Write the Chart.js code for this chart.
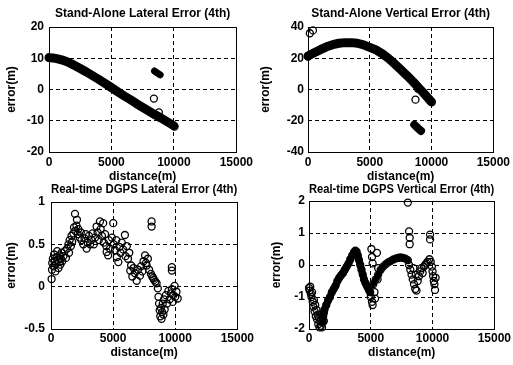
<!DOCTYPE html>
<html lang="en">
<head>
<meta charset="UTF-8">
<title>Stand-Alone vs Real-time DGPS Error (4th)</title>
<script src="https://cdn.jsdelivr.net/npm/chart.js"></script>
<style>
  body { margin: 0; background: #fff; }
  #wrap { position: relative; width: 513px; height: 365px; overflow: hidden; background: #fff; }
  canvas { position: absolute; }
</style>
</head>
<body>
<div id="wrap">
  <canvas id="saLat" width="256" height="190" style="left:0;top:0"></canvas>
  <canvas id="saVert" width="257" height="190" style="left:256px;top:0"></canvas>
  <canvas id="rtLat" width="256" height="183" style="left:0;top:182px"></canvas>
  <canvas id="rtVert" width="257" height="183" style="left:256px;top:182px"></canvas>
</div>
<script>
// tick labels
const distTicks = [0, 5000, 10000, 15000];
const saLatTicks = [-20, -10, 0, 10, 20];
const saVertTicks = [-40, -20, 0, 20, 40];
const rtLatTicks = [-0.5, 0, 0.5, 1];
const rtVertTicks = [-2, -1, 0, 1, 2];

// stand-alone lateral: [distance, error]
const saLatTrack = [[0,10.2],[300,10.1],[700,9.8],[1000,9.5],[1500,8.8],[2000,7.8],[2500,6.7],[3000,5.6],
  [3500,4.4],[4000,3.2],[4500,1.9],[5000,0.6],[5500,-0.7],[6000,-2.0],[6500,-3.2],[7000,-4.5],[7500,-5.7],
  [8000,-6.9],[8500,-8.1],[9000,-9.2],[9500,-10.4],[10000,-11.6]];
const saLatBlob = [[8450,5.9],[8600,5.5],[8750,5.1],[8900,4.7]];
const saLatRings = [[0,10.1],[8400,-2.9],[8800,-7.3],[10050,-11.9]];

// stand-alone vertical
const saVertTrack = [[0,21.5],[500,23.5],[1000,25.5],[1500,27.3],[2000,28.7],[2500,29.6],[3000,30.0],
  [3500,30.0],[4000,29.6],[4500,28.6],[5000,27.0],[5500,25.3],[6000,23.0],[6500,20.0],[7000,16.5],
  [7500,12.8],[8000,9.0],[8500,5.0],[9000,0.8],[9500,-3.5],[10000,-8.0]];
const saVertBlob = [[8600,-22.5],[8800,-24],[9000,-25.5],[9150,-26.5]];
const saVertRings = [[0,21],[150,36],[400,37.8],[8700,-6.5],[8900,0.5]];

// real-time DGPS lateral
const rtLatPts = [[50,0.09],[80,0.2],[100,0.28],[150,0.33],[200,0.24],[250,0.38],[300,0.3],[350,0.18],
  [400,0.27],[450,0.35],[500,0.42],[550,0.31],[600,0.22],[650,0.29],[700,0.37],[750,0.26],[800,0.33],
  [850,0.4],[900,0.3],[1000,0.36],[1100,0.42],[1200,0.34],
  [1300,0.45],[1400,0.5],[1450,0.4],[1500,0.55],[1600,0.48],[1650,0.6],[1700,0.53],[1800,0.63],[1850,0.7],
  [1930,0.86],[1950,0.66],[2050,0.72],[2090,0.79],[2150,0.62],[2200,0.68],[2300,0.58],[2400,0.64],[2450,0.55],
  [2600,0.5],[2700,0.57],[2800,0.62],[2870,0.45],[2950,0.52],[3050,0.6],[3150,0.5],[3250,0.55],[3350,0.63],
  [3450,0.5],[3550,0.58],
  [3670,0.71],[3750,0.64],[3850,0.55],[3940,0.77],[4000,0.68],[4100,0.6],[4200,0.75],[4250,0.52],[4350,0.62],
  [4450,0.48],[4480,0.41],[4600,0.37],[4650,0.55],[4750,0.45],
  [5010,0.75],[4900,0.58],[5050,0.5],[5150,0.43],[5250,0.55],[5300,0.35],[5420,0.29],[5500,0.47],[5600,0.4],
  [5700,0.52],[5800,0.44],[5950,0.61],[6000,0.36],[6100,0.48],[6200,0.33],[6300,0.4],
  [6380,0.19],[6450,0.25],[6550,0.12],[6650,0.22],[6750,0.16],[6900,0.07],[7000,0.2],[7160,0.13],[7250,0.24],
  [7350,0.18],[7450,0.3],[7570,0.37],[7650,0.28],[7700,0.25],[7800,0.33],[7900,0.2],
  [8100,0.77],[8100,0.71],
  [8050,0.15],[8150,0.12],[8230,0.1],[8300,0.08],[8400,0.06],[8500,0.04],[8600,-0.02],[8650,-0.12],[8700,-0.2],
  [8750,-0.28],[8800,-0.35],[8850,-0.25],[8900,-0.38],[8950,-0.3],[9000,-0.2],[9050,-0.33],[9100,-0.15],[9150,-0.27],
  [9250,-0.1],[9350,-0.2],[9450,-0.05],[9550,-0.15],[9650,-0.08],[9730,-0.03],[9800,-0.18],[9850,-0.1],
  [9950,0.01],[10000,-0.12],[10100,-0.06],[10200,-0.14],
  [9730,0.23],[9730,0.19]];

// real-time DGPS vertical
const rtVertRise = [[1100,-1.75],[1150,-1.6],[1250,-1.4],[1400,-1.25],[1550,-1.1],[1700,-1.0],[1850,-0.85],
  [2000,-0.75],[2150,-0.65],[2300,-0.5],[2450,-0.4],[2600,-0.32],[2750,-0.25],[2900,-0.15],[3050,-0.05],
  [3200,0.05],[3350,0.18],[3500,0.3],[3650,0.4],[3750,0.45],[3850,0.42],[3950,0.3],[4050,0.15],[4150,0.0],
  [4250,-0.15],[4350,-0.3],[4450,-0.45],[4550,-0.55],[4650,-0.62],[4750,-0.7],[4850,-0.78],[4950,-0.85]];
const rtVertPlateau = [[5200,-0.6],[5400,-0.45],[5600,-0.3],[5800,-0.15],[6000,-0.05],[6200,0.02],[6400,0.08],
  [6600,0.12],[6800,0.17],[7000,0.2],[7200,0.22],[7400,0.24],[7600,0.22],[7800,0.2],[8000,0.15]];
const rtVertPts = [[0,-0.72],[50,-0.8],[100,-0.68],[150,-0.9],[200,-1.0],[250,-0.85],[300,-1.15],[350,-1.3],
  [400,-1.1],[450,-1.45],[500,-1.25],[550,-1.6],[600,-1.4],[650,-1.7],[700,-1.55],[750,-1.85],[800,-1.65],
  [850,-1.95],[900,-1.75],[950,-1.9],[1000,-1.6],[1050,-1.95],[1100,-1.8],[1200,-1.5],[1200,-1.75],
  [5050,0.5],[5100,0.25],[5150,0.05],[5500,0.38],[5600,-0.1],[5550,-0.45],[5000,-1.0],[5100,-1.15],
  [5150,-1.25],[5300,-0.85],[5350,-1.05],
  [8100,0.0],[8200,-0.15],[8300,-0.3],[8400,-0.45],[8500,-0.6],[8600,-0.75],[8700,-0.8],[8450,-0.1],
  [8650,-0.3],[8800,-0.5],[8900,-0.35],[9000,-0.2],[9100,-0.1],[9200,-0.25],[9300,-0.05],[9400,0.0],
  [9500,0.05],[9600,0.1],[9750,0.18],[9850,0.1],
  [9950,-0.05],[10000,-0.2],[10050,-0.35],[10100,-0.5],[10150,-0.6],[10200,-0.78],[10250,-0.4],
  [8000,1.95],[8100,1.05],[8150,0.85],[8150,0.65],[9800,0.95],[9800,0.8]];

const FONT = "'Liberation Sans', Arial, sans-serif";

const toXY = arr => arr.map(p => ({ x: p[0], y: p[1] }));

function band(arr, width) {
  return { data: toXY(arr), showLine: true, borderColor: '#000', borderWidth: width,
    borderCapStyle: 'round', borderJoinStyle: 'round', pointRadius: 0, clip: false };
}
function rings(arr) {
  return { data: toXY(arr), showLine: false, pointStyle: 'circle', pointRadius: 3.5,
    borderColor: '#000', pointBorderColor: '#000', pointBorderWidth: 1.3,
    backgroundColor: 'rgba(0,0,0,0)', pointBackgroundColor: 'rgba(0,0,0,0)', clip: false };
}

// solid box around the plot area
const framePlugin = {
  id: 'frame',
  afterDraw(chart) {
    const { ctx, chartArea: a } = chart;
    ctx.save();
    ctx.setLineDash([]);
    ctx.strokeStyle = '#000';
    ctx.lineWidth = 1;
    ctx.strokeRect(Math.round(a.left) + 0.5, Math.round(a.top) + 0.5,
      Math.round(a.right - a.left), Math.round(a.bottom - a.top));
    ctx.restore();
  }
};

function makeChart(id, o) {
  const gridOpts = { color: '#000', lineWidth: 1, drawTicks: false };
  const tickFont = { family: FONT, size: 12, weight: 'bold' };
  new Chart(document.getElementById(id), {
    type: 'scatter',
    data: { datasets: o.datasets },
    options: {
      responsive: false,
      animation: false,
      layout: { padding: { left: 0, top: 0, bottom: 0, right: o.padRight } },
      plugins: {
        legend: { display: false },
        tooltip: { enabled: false },
        title: {
          display: true, text: o.title, fullSize: false, color: '#000',
          font: { family: FONT, size: 12, weight: 'bold' },
          padding: { top: o.titleTop, bottom: o.titleBottom }
        }
      },
      scales: {
        x: {
          type: 'linear', min: 0, max: 15000,
          afterBuildTicks: s => { s.ticks = distTicks.map(v => ({ value: v })); },
          afterFit: s => { s.height = o.xHeight; },
          grid: gridOpts,
          border: { display: false, dash: [4, 3] },
          ticks: { color: '#000', font: tickFont, padding: o.xTickPad, maxRotation: 0, callback: v => String(v) },
          title: { display: true, text: 'distance(m)', color: '#000', font: tickFont,
            padding: { top: 0, bottom: o.xTitleBottom } }
        },
        y: {
          type: 'linear', min: o.yTicks[0], max: o.yTicks[o.yTicks.length - 1],
          afterBuildTicks: s => { s.ticks = o.yTicks.map(v => ({ value: v })); },
          afterFit: s => { s.width = o.yWidth; },
          grid: gridOpts,
          border: { display: false, dash: [4, 3] },
          ticks: { color: '#000', font: tickFont, padding: o.yTickPad, callback: v => String(v) },
          title: { display: true, text: 'error(m)', color: '#000', font: tickFont,
            padding: { top: o.yTitleTop, bottom: 0 } }
        }
      }
    },
    plugins: [framePlugin]
  });
}

makeChart('saLat', {
  title: 'Stand-Alone Lateral Error (4th)', yTicks: saLatTicks,
  padRight: 18, yWidth: 49, xHeight: 38, titleTop: 6.8, titleBottom: 5.8,
  xTickPad: 3, xTitleBottom: 5.8, yTickPad: 5, yTitleTop: 4.8,
  datasets: [band(saLatTrack, 9), band(saLatBlob, 7), rings(saLatRings)]
});
makeChart('saVert', {
  title: 'Stand-Alone Vertical Error (4th)', yTicks: saVertTicks,
  padRight: 19, yWidth: 52, xHeight: 38, titleTop: 6.8, titleBottom: 5.8,
  xTickPad: 3, xTitleBottom: 5.8, yTickPad: 4, yTitleTop: 2.8,
  datasets: [band(saVertTrack, 9), band(saVertBlob, 8), rings(saVertRings)]
});
makeChart('rtLat', {
  title: 'Real-time DGPS Lateral Error (4th)', yTicks: rtLatTicks,
  padRight: 18, yWidth: 51, xHeight: 36, titleTop: 0, titleBottom: 5.6,
  xTickPad: 2, xTitleBottom: 4.8, yTickPad: 6, yTitleTop: 4.8,
  datasets: [rings(rtLatPts)]
});
makeChart('rtVert', {
  title: 'Real-time DGPS Vertical Error (4th)', yTicks: rtVertTicks,
  padRight: 18, yWidth: 53, xHeight: 36, titleTop: 0, titleBottom: 4.6,
  xTickPad: 2, xTitleBottom: 4.8, yTickPad: 4, yTitleTop: 13.8,
  datasets: [band(rtVertRise, 7), band(rtVertPlateau, 6), rings(rtVertRise), rings(rtVertPlateau), rings(rtVertPts)]
});
</script>
</body>
</html>
